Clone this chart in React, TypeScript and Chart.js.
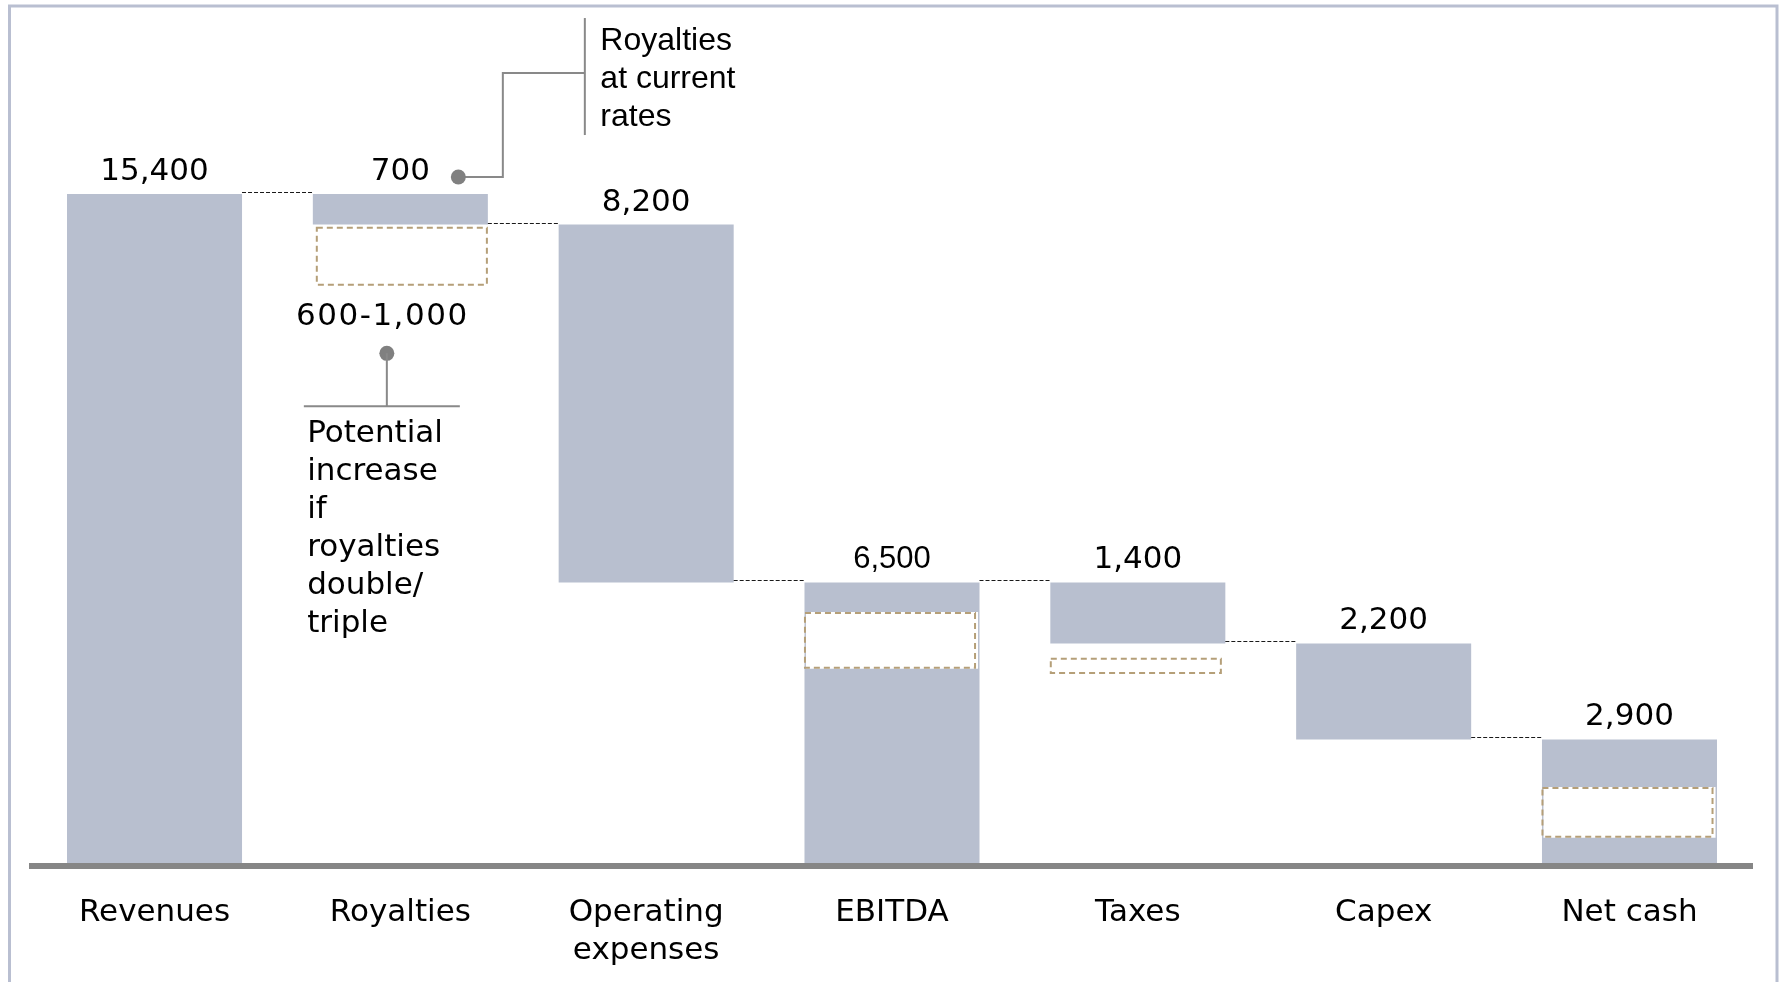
import React, { useEffect, useRef } from 'react';
import { Chart, registerables } from 'chart.js';

Chart.register(...registerables);

// ---- Data ----
const categories: (string | string[])[] = ['Revenues', 'Royalties', ['Operating', 'expenses'], 'EBITDA', 'Taxes', 'Capex', 'Net cash'];
const barKinds = ['total', 'decrease', 'decrease', 'total', 'decrease', 'decrease', 'total'];
const barStart = [0, 14700, 6500, 0, 5100, 2900, 0];
const barEnd = [15400, 15400, 14700, 6500, 6500, 5100, 2900];
const valueLabels = ['15,400', '700', '8,200', '6,500', '1,400', '2,200', '2,900'];
const valueLabelFonts = ['DejaVu Sans', 'DejaVu Sans', 'DejaVu Sans', 'Liberation Sans', 'DejaVu Sans', 'DejaVu Sans', 'DejaVu Sans'];
const potentialLow: (number | null)[] = [null, 13300, null, 4520, 4400, null, 650];
const potentialHigh: (number | null)[] = [null, 14650, null, 5820, 4770, null, 1810];
const yMax = 19400;
const royaltyRangeLabel = '600-1,000';
const currentRatesNote = ['Royalties', 'at current', 'rates'];
const potentialNote = ['Potential', 'increase', 'if', 'royalties', 'double/', 'triple'];

const BAR_COLOR = '#b8bfcf';
const FRAME_COLOR = '#b9bfd1';
const BOX_COLOR = '#b59f78';
const CALLOUT_COLOR = '#898989';
const BOX_SHIFT = [0, 3.5, 0, 0, 0, 0, 0];

const overlayPlugin = {
  id: 'overlay',
  beforeDraw(chart: any) {
    const ctx = chart.ctx;
    const W = chart.width;
    const H = chart.height;
    ctx.save();
    ctx.strokeStyle = FRAME_COLOR;
    ctx.lineWidth = 3;
    ctx.beginPath();
    ctx.moveTo(9.5, H);
    ctx.lineTo(9.5, 6);
    ctx.lineTo(W - 2, 6);
    ctx.lineTo(W - 2, H);
    ctx.stroke();
    ctx.restore();
  },
  afterDatasetsDraw(chart: any) {
    const ctx = chart.ctx;
    const ys = chart.scales.y;
    const potMeta = chart.getDatasetMeta(0);
    const barMeta = chart.getDatasetMeta(1);
    ctx.save();

    // dashed "potential" boxes
    ctx.setLineDash([6, 4]);
    ctx.strokeStyle = BOX_COLOR;
    ctx.lineWidth = 2;
    for (let i = 0; i < potentialLow.length; i++) {
      if (potentialLow[i] == null) continue;
      const el = potMeta.data[i];
      const top = Math.min(el.y, el.base);
      const h = Math.abs(el.base - el.y);
      ctx.strokeRect(el.x - el.width / 2 - 1 + BOX_SHIFT[i], top + 1, el.width - 2, h - 2);
    }

    // connectors
    ctx.setLineDash([4, 2]);
    ctx.strokeStyle = '#1a1a1a';
    ctx.lineWidth = 1;
    for (let i = 0; i < barStart.length - 1; i++) {
      const level = barKinds[i] === 'total' ? barEnd[i] : barStart[i];
      const a = barMeta.data[i];
      const b = barMeta.data[i + 1];
      const y = Math.round(ys.getPixelForValue(level)) - 1.5;
      ctx.beginPath();
      ctx.moveTo(a.x + a.width / 2, y);
      ctx.lineTo(b.x - b.width / 2, y);
      ctx.stroke();
    }
    ctx.setLineDash([]);

    // value labels
    ctx.fillStyle = '#000000';
    ctx.textAlign = 'center';
    ctx.textBaseline = 'alphabetic';
    for (let i = 0; i < valueLabels.length; i++) {
      const el = barMeta.data[i];
      const top = ys.getPixelForValue(Math.max(barStart[i], barEnd[i]));
      ctx.font = `31px "${valueLabelFonts[i]}"`;
      ctx.fillText(valueLabels[i], el.x, top - 14);
    }

    // callouts around Royalties
    const roy = barMeta.data[1];
    const cx = roy.x;
    const topY = ys.getPixelForValue(barEnd[1]);
    ctx.strokeStyle = CALLOUT_COLOR;
    ctx.fillStyle = '#808080';
    ctx.lineWidth = 2;
    // top callout
    ctx.beginPath();
    ctx.moveTo(cx + 58, topY - 17);
    ctx.lineTo(cx + 102.5, topY - 17);
    ctx.lineTo(cx + 102.5, topY - 121);
    ctx.lineTo(cx + 184.5, topY - 121);
    ctx.stroke();
    ctx.beginPath();
    ctx.moveTo(cx + 184.5, topY - 176);
    ctx.lineTo(cx + 184.5, topY - 59);
    ctx.stroke();
    ctx.beginPath();
    ctx.arc(cx + 58, topY - 17, 7.5, 0, Math.PI * 2);
    ctx.fill();
    ctx.fillStyle = '#000000';
    ctx.textAlign = 'left';
    ctx.font = '32px "Liberation Sans"';
    currentRatesNote.forEach((t, k) => ctx.fillText(t, cx + 200, topY - 144 + k * 38));

    // bottom callout
    ctx.textAlign = 'center';
    ctx.font = '31px "DejaVu Sans"';
    (ctx as any).letterSpacing = '1.5px';
    ctx.fillText(royaltyRangeLabel, cx - 18, topY + 131.3);
    (ctx as any).letterSpacing = '0px';
    ctx.fillStyle = '#808080';
    ctx.beginPath();
    ctx.arc(cx - 13.5, topY + 159.3, 7.5, 0, Math.PI * 2);
    ctx.fill();
    ctx.beginPath();
    ctx.moveTo(cx - 13.5, topY + 159.3);
    ctx.lineTo(cx - 13.5, topY + 212.3);
    ctx.moveTo(cx - 96.5, topY + 212.3);
    ctx.lineTo(cx + 59.5, topY + 212.3);
    ctx.stroke();
    ctx.fillStyle = '#000000';
    ctx.textAlign = 'left';
    potentialNote.forEach((t, k) => ctx.fillText(t, cx - 93.2, topY + 247.8 + k * 38));

    ctx.restore();
  },
};

export default function App() {
  const ref = useRef<HTMLCanvasElement>(null);
  useEffect(() => {
    const chart = new Chart(ref.current as HTMLCanvasElement, {
      type: 'bar',
      data: {
        labels: categories as any,
        datasets: [
          {
            label: 'Potential',
            data: potentialLow.map((v, i) => (v == null ? null : [v, potentialHigh[i] as number])) as any,
            backgroundColor: '#ffffff',
            borderWidth: 0,
            barPercentage: 0.7,
            categoryPercentage: 1,
            grouped: false,
            order: 0,
          },
          {
            label: 'Values',
            data: barStart.map((s, i) => [s, barEnd[i]]) as any,
            backgroundColor: BAR_COLOR,
            borderWidth: 0,
            barPercentage: 0.712,
            categoryPercentage: 1,
            grouped: false,
            order: 1,
          },
        ],
      },
      options: {
        responsive: true,
        maintainAspectRatio: false,
        animation: false,
        events: [],
        layout: { padding: { left: 31.6, right: 26.6, top: 19.5, bottom: 0 } },
        plugins: { legend: { display: false }, tooltip: { enabled: false } },
        scales: {
          x: {
            grid: { display: false, drawTicks: false },
            border: { display: true, color: '#868686', width: 6, z: 1 } as any,
            ticks: {
              color: '#000000',
              font: { family: 'DejaVu Sans', size: 31, lineHeight: 38 / 31 },
              padding: 27.5,
              maxRotation: 0,
              autoSkip: false,
            },
            afterFit: (s: any) => {
              s.height = 116;
            },
          },
          y: { display: false, min: 0, max: yMax },
        },
      },
      plugins: [overlayPlugin],
    });
    return () => chart.destroy();
  }, []);
  return (
    <div style={{ position: 'fixed', left: 0, top: 0, width: 1779, height: 982, background: '#ffffff' }}>
      <canvas ref={ref} />
    </div>
  );
}
